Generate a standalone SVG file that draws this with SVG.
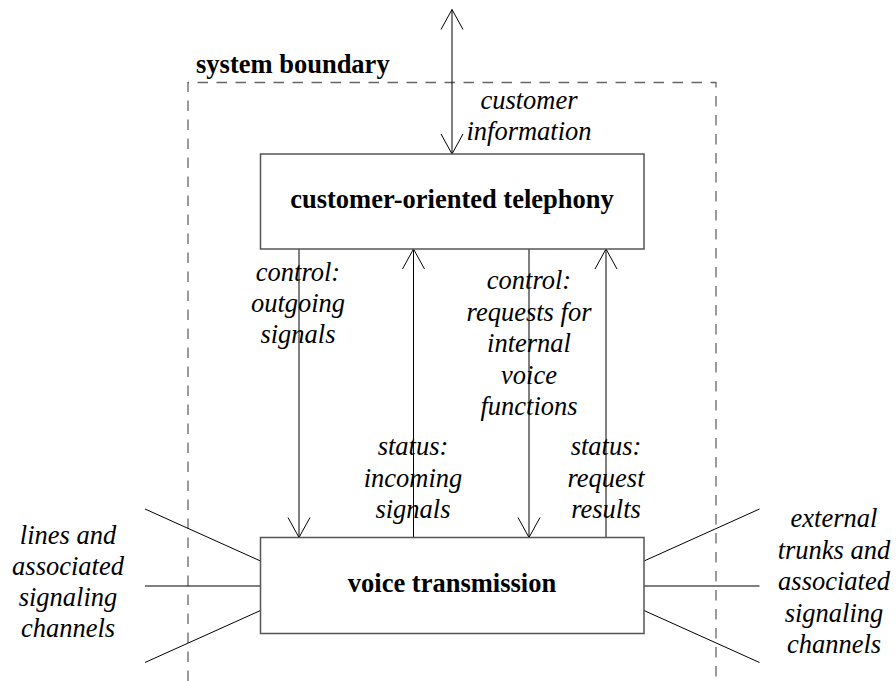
<svg xmlns="http://www.w3.org/2000/svg" width="896" height="681" viewBox="0 0 896 681">
<style>
.box{fill:#fff;stroke:#555;stroke-width:1.5}
.ln{stroke:#000;stroke-width:1;fill:none}
.bd{stroke:#666;stroke-width:1.3;fill:none;stroke-dasharray:10.5 8.5}
.t{font-family:'Liberation Serif','Times New Roman',serif;font-size:26.5px;fill:#000}
.i{font-style:italic;text-anchor:middle}
.b{font-weight:bold}
</style>
<defs>
<marker id="arr" markerUnits="userSpaceOnUse" viewBox="-22 -12 24 24" refX="0" refY="0" markerWidth="24" markerHeight="24" orient="auto-start-reverse">
<path d="M-20,-11 L0,0 L-20,11" fill="none" stroke="#000" stroke-width="1"/>
</marker>
</defs>
<rect width="896" height="681" fill="#fff"/>
<g id="boundary">
<path class="bd" d="M188,681 V82.5 H716 V681"/>
<text class="t b" x="196" y="73">system boundary</text>
</g>
<g id="connectors">
<line class="ln" x1="452" y1="9.5" x2="452" y2="154" marker-start="url(#arr)" marker-end="url(#arr)"/>
<line class="ln" x1="299" y1="249" x2="299" y2="537.5" marker-end="url(#arr)"/>
<line class="ln" x1="413.5" y1="537.5" x2="413.5" y2="249" marker-end="url(#arr)"/>
<line class="ln" x1="529" y1="249" x2="529" y2="537.5" marker-end="url(#arr)"/>
<line class="ln" x1="606" y1="537.5" x2="606" y2="249" marker-end="url(#arr)"/>
<line class="ln" x1="145" y1="509" x2="260.5" y2="561"/>
<line class="ln" x1="145" y1="586" x2="260.5" y2="586"/>
<line class="ln" x1="145" y1="662.5" x2="260.5" y2="610.5"/>
<line class="ln" x1="644" y1="561" x2="759.5" y2="509"/>
<line class="ln" x1="644" y1="586" x2="759.5" y2="586"/>
<line class="ln" x1="644" y1="610.5" x2="759.5" y2="662.5"/>
<text class="t i"><tspan x="529" y="109">customer</tspan><tspan x="529" y="139.5">information</tspan></text>
<text class="t i"><tspan x="298" y="281">control:</tspan><tspan x="298" y="312">outgoing</tspan><tspan x="298" y="343">signals</tspan></text>
<text class="t i"><tspan x="529" y="289">control:</tspan><tspan x="529" y="320.5">requests for</tspan><tspan x="529" y="352">internal</tspan><tspan x="529" y="383.5">voice</tspan><tspan x="529" y="415">functions</tspan></text>
<text class="t i"><tspan x="413" y="455">status:</tspan><tspan x="413" y="486.5">incoming</tspan><tspan x="413" y="518">signals</tspan></text>
<text class="t i"><tspan x="606" y="455">status:</tspan><tspan x="606" y="486.5">request</tspan><tspan x="606" y="518">results</tspan></text>
<text class="t i"><tspan x="68" y="543.5">lines and</tspan><tspan x="68" y="574.5">associated</tspan><tspan x="68" y="605.5">signaling</tspan><tspan x="68" y="637">channels</tspan></text>
<text class="t i"><tspan x="834" y="527">external</tspan><tspan x="834" y="558.5">trunks and</tspan><tspan x="834" y="590">associated</tspan><tspan x="834" y="621.5">signaling</tspan><tspan x="834" y="653">channels</tspan></text>
</g>
<g id="customer-oriented-telephony">
<rect class="box" x="260.5" y="154" width="383.5" height="95"/>
<text class="t b" x="452" y="208" text-anchor="middle">customer-oriented telephony</text>
</g>
<g id="voice-transmission">
<rect class="box" x="260.5" y="537.5" width="383.5" height="96"/>
<text class="t b" x="452" y="591.5" text-anchor="middle">voice transmission</text>
</g>
</svg>
